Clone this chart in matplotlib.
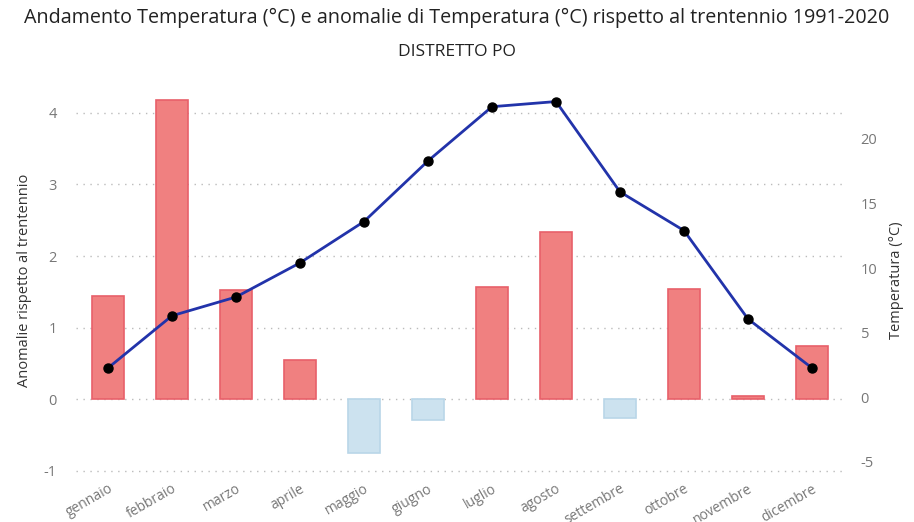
import matplotlib.pyplot as plt
import matplotlib.transforms as mtransforms
import numpy as np

# monthly data for the Po district
mesi = ['gennaio', 'febbraio', 'marzo', 'aprile', 'maggio', 'giugno',
        'luglio', 'agosto', 'settembre', 'ottobre', 'novembre', 'dicembre']
anomalie = [1.44, 4.18, 1.52, 0.55, -0.75, -0.29, 1.57, 2.34, -0.27, 1.54, 0.04, 0.74]
temperatura = [2.25, 6.3, 7.75, 10.4, 13.6, 18.3, 22.5, 22.9, 15.9, 12.9, 6.05, 2.25]

plt.rcParams['font.family'] = ['Open Sans', 'DejaVu Sans']
plt.rcParams['axes.unicode_minus'] = False

fig = plt.figure(figsize=(9.14, 5.22), dpi=100)
ax = fig.add_axes([76 / 914, 1 - 480 / 522, 768 / 914, 400 / 522])
x = np.arange(len(mesi))

# bars: red for positive anomalies, light blue for negative ones
face = ['#F08080' if v >= 0 else '#CCE2EF' for v in anomalie]
edge = ['#E8606A' if v >= 0 else '#B9D6E8' for v in anomalie]
ax.bar(x, anomalie, width=0.49, color=face, edgecolor=edge, linewidth=1.2, zorder=2)

ax.set_xlim(-0.5, 11.5)
ax.set_ylim(-1.13, 4.46)
ax.set_yticks([-1, 0, 1, 2, 3, 4])
ax.set_xticks(x)
ax.set_xticklabels(mesi, rotation=30, ha='right', rotation_mode='anchor',
                   color='#777777', fontsize=10)
shift = mtransforms.ScaledTranslation(-5 / 100, 0, fig.dpi_scale_trans)
for lab in ax.get_xticklabels():
    lab.set_transform(lab.get_transform() + shift)
ax.tick_params(axis='y', colors='#777777', labelsize=10.5, length=0, pad=14)
ax.tick_params(axis='x', length=0, pad=1)
ax.grid(axis='y', linestyle=(0, (1, 4)), color='#BBBBBB', linewidth=1, zorder=0)
for s in ax.spines.values():
    s.set_visible(False)
ax.set_ylabel('Anomalie rispetto al trentennio', color='#333333', fontsize=10.5, labelpad=8)

# temperature line on the secondary axis
ax2 = ax.twinx()
ax2.plot(x, temperatura, color='#2233AA', linewidth=2, marker='o',
         markersize=6.5, markerfacecolor='black', markeredgecolor='black', zorder=3)
ax2.set_ylim(-6.43, 24.57)
ax2.set_yticks([-5, 0, 5, 10, 15, 20])
ax2.tick_params(axis='y', colors='#777777', labelsize=10.5, length=0, pad=12)
for s in ax2.spines.values():
    s.set_visible(False)
ax2.set_ylabel('Temperatura (°C)', color='#333333', fontsize=10.5, labelpad=8)

fig.text(0.5, 1 - 18 / 522, 'Andamento Temperatura (°C) e anomalie di Temperatura (°C) rispetto al trentennio 1991-2020',
         ha='center', va='center', fontsize=14.2, color='#222222')
fig.text(0.5, 1 - 52 / 522, 'DISTRETTO PO', ha='center', va='center', fontsize=12.5, color='#222222')

fig.savefig('out.png', dpi=100)
